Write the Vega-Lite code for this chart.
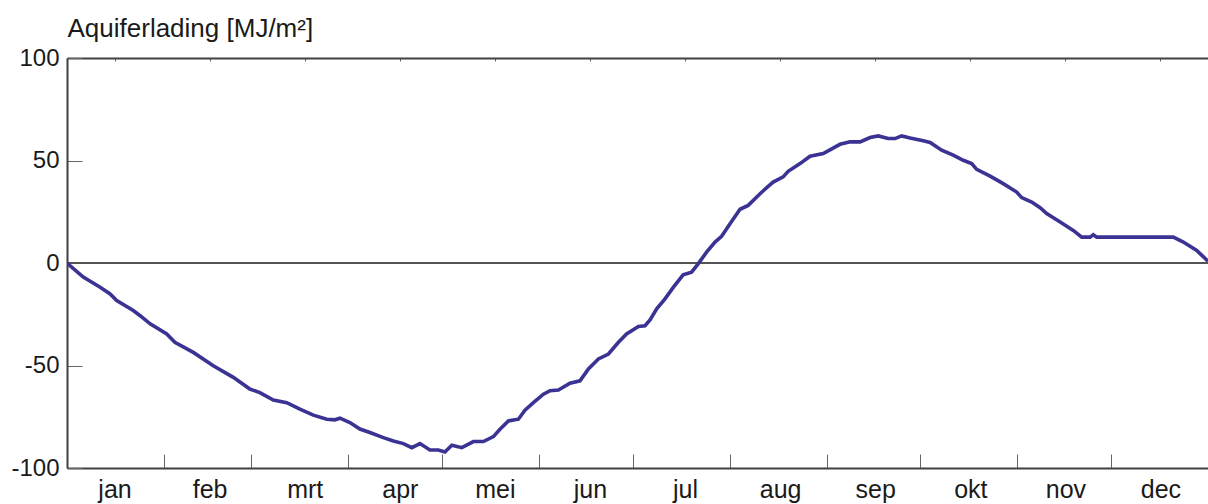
{
  "$schema": "https://vega.github.io/schema/vega-lite/v6.json",
  "width": 1141,
  "height": 410,
  "autosize": {"type": "none"},
  "padding": {"left": 67, "top": 58, "right": 0, "bottom": 36},
  "background": "white",
  "config": {
    "view": {"stroke": null},
    "font": "Liberation Sans",
    "axis": {"grid": false, "labelFont": "Liberation Sans", "titleFont": "Liberation Sans", "labelColor": "#1a1a1a", "titleColor": "#1a1a1a", "labelFontSize": 24, "domainColor": "#404040", "domainWidth": 2, "tickColor": "#666666", "tickWidth": 1},
    "axisY": {"titleAngle": 0, "titleAlign": "left", "titleBaseline": "alphabetic", "titleX": 0, "titleY": -22, "titleFontSize": 26, "titleFontWeight": "normal", "tickSize": -15, "labelPadding": 23, "tickCount": 5,
              "labelExpr": "datum.value < 0 ? '-' + abs(datum.value) : '' + datum.value"}
  },
  "datasets": {
    "curve": [
      {"day": 0, "value": 0}, {"day": 5.2, "value": -6.9}, {"day": 10.6, "value": -11.8}, {"day": 13.8, "value": -15.1},
      {"day": 15.9, "value": -18.3}, {"day": 21.2, "value": -23.2}, {"day": 23.4, "value": -25.7}, {"day": 26.6, "value": -29.7},
      {"day": 31.9, "value": -34.6}, {"day": 34.5, "value": -38.7}, {"day": 40.4, "value": -43.6}, {"day": 46.8, "value": -50.1},
      {"day": 53.2, "value": -55.8}, {"day": 58.5, "value": -61.5}, {"day": 61.7, "value": -63.2}, {"day": 66, "value": -66.9},
      {"day": 70.3, "value": -68.1}, {"day": 74.5, "value": -71.3}, {"day": 78.8, "value": -74.2}, {"day": 83.1, "value": -76.2},
      {"day": 85.7, "value": -76.5}, {"day": 87.3, "value": -75.7}, {"day": 90.5, "value": -77.8}, {"day": 93.7, "value": -81},
      {"day": 96.9, "value": -82.7}, {"day": 101.2, "value": -85.2}, {"day": 104.4, "value": -86.8}, {"day": 107.6, "value": -88.1},
      {"day": 110.3, "value": -90.1}, {"day": 112.9, "value": -88.1}, {"day": 116.1, "value": -91.2}, {"day": 118.8, "value": -91.2},
      {"day": 120.9, "value": -92.2}, {"day": 123.1, "value": -88.9}, {"day": 126.3, "value": -90.1}, {"day": 130, "value": -87.1},
      {"day": 133.2, "value": -87.1}, {"day": 136.4, "value": -84.7}, {"day": 138.5, "value": -81.1}, {"day": 141.2, "value": -77},
      {"day": 144.4, "value": -76.2}, {"day": 146.5, "value": -71.8}, {"day": 149.2, "value": -68.1}, {"day": 152.4, "value": -64},
      {"day": 154.5, "value": -62.3}, {"day": 157.2, "value": -62}, {"day": 160.9, "value": -58.6}, {"day": 164.1, "value": -57.5},
      {"day": 166.8, "value": -51.7}, {"day": 170, "value": -46.8}, {"day": 173.2, "value": -44.4}, {"day": 176.4, "value": -38.7},
      {"day": 179, "value": -34.6}, {"day": 182.8, "value": -31}, {"day": 184.9, "value": -30.6}, {"day": 186.5, "value": -27.8},
      {"day": 188.7, "value": -22.2}, {"day": 191.3, "value": -17.5}, {"day": 194, "value": -11.8}, {"day": 197.1, "value": -5.8},
      {"day": 199.8, "value": -4.5}, {"day": 201.9, "value": -0.4}, {"day": 204.6, "value": 5.3}, {"day": 207.3, "value": 10.2},
      {"day": 209.4, "value": 13}, {"day": 212.1, "value": 19.2}, {"day": 215.3, "value": 26.2}, {"day": 217.9, "value": 28.1},
      {"day": 221.7, "value": 33.8}, {"day": 224.3, "value": 37.4}, {"day": 225.9, "value": 39.5}, {"day": 229.1, "value": 42},
      {"day": 230.7, "value": 44.7}, {"day": 234.5, "value": 48.5}, {"day": 237.7, "value": 52.1}, {"day": 241.9, "value": 53.4},
      {"day": 247.3, "value": 57.9}, {"day": 250.5, "value": 59.1}, {"day": 253.7, "value": 59.1}, {"day": 256.9, "value": 61.2},
      {"day": 259.5, "value": 62}, {"day": 262.7, "value": 60.7}, {"day": 264.9, "value": 60.7}, {"day": 267, "value": 62},
      {"day": 269.7, "value": 61}, {"day": 273.9, "value": 59.6}, {"day": 276.1, "value": 58.8}, {"day": 279.8, "value": 55},
      {"day": 283.5, "value": 52.6}, {"day": 286.7, "value": 50.1}, {"day": 289.4, "value": 48.5}, {"day": 291, "value": 45.7},
      {"day": 295.3, "value": 42.4}, {"day": 299.5, "value": 38.7}, {"day": 303.8, "value": 34.6}, {"day": 305.4, "value": 31.9},
      {"day": 308.6, "value": 29.7}, {"day": 311.3, "value": 27}, {"day": 313.4, "value": 24.1}, {"day": 317.7, "value": 20},
      {"day": 321.9, "value": 15.9}, {"day": 324.6, "value": 12.6}, {"day": 327.3, "value": 12.6}, {"day": 328.3, "value": 13.8},
      {"day": 329.4, "value": 12.6}, {"day": 353.9, "value": 12.6}, {"day": 357.1, "value": 10.2}, {"day": 361.4, "value": 6.1},
      {"day": 365, "value": 0.9}
    ],
    "months": [
      {"month": "jan", "mid": 15.21}, {"month": "feb", "mid": 45.63}, {"month": "mrt", "mid": 76.04}, {"month": "apr", "mid": 106.46},
      {"month": "mei", "mid": 136.88}, {"month": "jun", "mid": 167.29}, {"month": "jul", "mid": 197.71}, {"month": "aug", "mid": 228.13},
      {"month": "sep", "mid": 258.54}, {"month": "okt", "mid": 288.96}, {"month": "nov", "mid": 319.38}, {"month": "dec", "mid": 349.79}
    ]
  },
  "layer": [
    {
      "data": {"name": "curve"},
      "mark": {"type": "rule", "color": "#555555", "strokeWidth": 1},
      "encoding": {
        "y": {"datum": 0, "type": "quantitative", "scale": {"domain": [-100, 100], "nice": false}, "title": "Aquiferlading [MJ/m²]"}
      }
    },
    {
      "data": {"name": "curve"},
      "mark": {"type": "line", "color": "#3a3393", "strokeWidth": 3.6, "clip": true},
      "encoding": {
        "x": {"field": "day", "type": "quantitative", "scale": {"domain": [0, 365], "nice": false, "zero": false},
              "axis": {"orient": "bottom", "values": [31, 59, 90, 120, 151, 181, 212, 243, 273, 304, 334], "labels": false, "tickSize": -14, "title": null}},
        "y": {"field": "value", "type": "quantitative", "scale": {"domain": [-100, 100], "nice": false}, "title": "Aquiferlading [MJ/m²]"}
      }
    },
    {
      "data": {"name": "months"},
      "mark": {"type": "point", "opacity": 0},
      "encoding": {
        "x": {"field": "mid", "type": "quantitative",
              "axis": {"orient": "bottom", "values": [15.21, 45.63, 76.04, 106.46, 136.88, 167.29, 197.71, 228.13, 258.54, 288.96, 319.38, 349.79],
                       "labelExpr": "['jan','feb','mrt','apr','mei','jun','jul','aug','sep','okt','nov','dec'][floor(datum.value / 30.4)]",
                       "ticks": false, "domain": false, "labelFontSize": 25, "labelPadding": 9, "labelFlush": false, "labelOverlap": false, "title": null}}
      }
    },
    {
      "data": {"name": "months"},
      "mark": {"type": "point", "opacity": 0},
      "encoding": {
        "x": {"field": "mid", "type": "quantitative",
              "axis": {"orient": "top", "values": [15.21, 45.63, 76.04, 106.46, 136.88, 167.29, 197.71, 228.13, 258.54, 288.96, 319.38, 349.79],
                       "labels": false, "tickSize": -3, "title": null}}
      }
    }
  ],
  "resolve": {"axis": {"x": "independent"}}
}
